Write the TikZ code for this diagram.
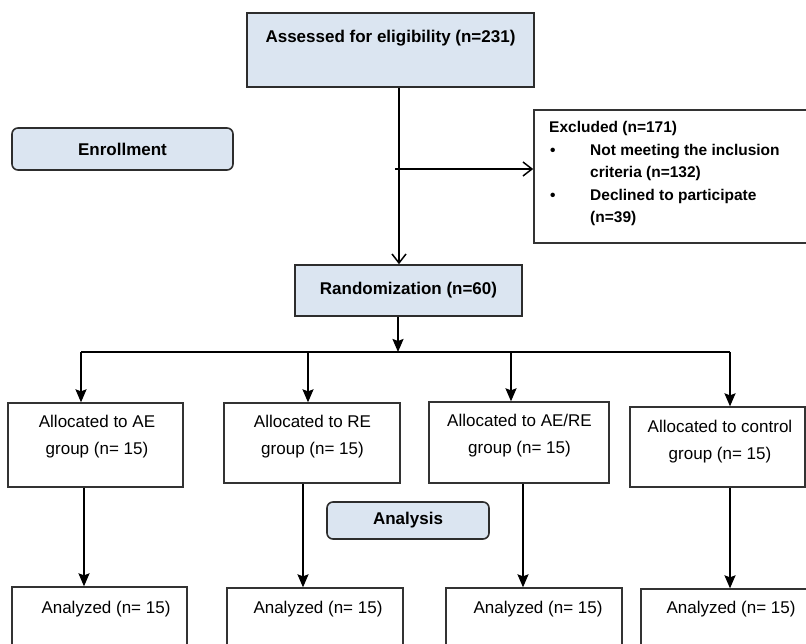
\documentclass[tikz,border=0pt]{standalone}
\usepackage{fontspec}
\setmainfont{Liberation Sans}
\usetikzlibrary{arrows.meta}
\definecolor{boxblue}{RGB}{219,229,241}
\definecolor{edgegray}{RGB}{45,45,45}
\begin{document}
\begin{tikzpicture}[x=1pt,y=-1pt,
  bluebox/.style={draw=edgegray, fill=boxblue, line width=1.6pt, inner sep=0pt},
  whitebox/.style={draw=black!80, fill=white, line width=1.3pt, inner sep=0pt},
  head/.style={font=\fontsize{17}{20}\selectfont\bfseries},
  body/.style={font=\fontsize{17}{27}\selectfont, align=center, inner sep=0pt},
  link/.style={line width=1.8pt},
  openarrow/.style={link, -{Straight Barb[length=9pt,width=14pt,line width=1.5pt]}},
  solidarrow/.style={link, -{Stealth[length=13pt,width=11pt,inset=2pt]}}
]
\useasboundingbox (0,0) rectangle (806,644);

% boxes
\node[bluebox, minimum width=287, minimum height=74] (assess) at (390.5,50) {};
\node[head, anchor=base] (assesst) at (390.5,43) {Assessed for eligibility (n=231)};

\node[bluebox, rounded corners=6pt, minimum width=221, minimum height=42, head] (enrol) at (122.5,149) {Enrollment};

\node[whitebox, line width=1.6pt, minimum width=286, minimum height=133] (excl) at (677,176.5) {};
\node[anchor=base west, align=left, inner sep=0pt, font=\fontsize{15.5}{22.5}\selectfont\bfseries] (exclt) at (549,223)
  {Excluded (n=171)\\
   \hspace*{1pt}\makebox[40pt][l]{\textbullet}Not meeting the inclusion\\
   \hspace*{41pt}criteria (n=132)\\
   \hspace*{1pt}\makebox[40pt][l]{\textbullet}Declined to participate\\
   \hspace*{41pt}(n=39)};

\node[bluebox, minimum width=227, minimum height=51, head] (rand) at (408.5,290.5) {Randomization (n=60)};

\node[bluebox, rounded corners=6pt, minimum width=162, minimum height=37, head] (analysis) at (408,520.5) {Analysis};

\node[whitebox, minimum width=175, minimum height=84] (al1) at (95.5,445) {};
\node[whitebox, minimum width=176, minimum height=80] (al2) at (312,443) {};
\node[whitebox, minimum width=180, minimum height=81] (al3) at (519,442.5) {};
\node[whitebox, minimum width=175, minimum height=80] (al4) at (717.5,447) {};
\node[body, anchor=base] (al1t) at (97,454) {Allocated to AE\\group (n= 15)};
\node[body, anchor=base] (al2t) at (312.5,454) {Allocated to RE\\group (n= 15)};
\node[body, anchor=base] (al3t) at (519.5,453) {Allocated to AE/RE\\group (n= 15)};
\node[body, anchor=base] (al4t) at (720,459) {Allocated to control\\group (n= 15)};

\node[whitebox, minimum width=175, minimum height=73] (an1) at (99.5,623.5) {};
\node[whitebox, minimum width=176, minimum height=72] (an2) at (315,624) {};
\node[whitebox, minimum width=176, minimum height=72] (an3) at (534,624) {};
\node[whitebox, minimum width=179, minimum height=71] (an4) at (730.5,624.5) {};
\node[body, anchor=base] (an1t) at (106,613) {Analyzed (n= 15)};
\node[body, anchor=base] (an2t) at (318,613) {Analyzed (n= 15)};
\node[body, anchor=base] (an3t) at (538,613) {Analyzed (n= 15)};
\node[body, anchor=base] (an4t) at (731,613) {Analyzed (n= 15)};

% connectors
\coordinate (mainx) at (399,0);
\coordinate (randx) at (398,0);
\coordinate (exstart) at (395,169);
\coordinate (split) at (398,352);
\coordinate (c1) at (81,352);
\coordinate (c2) at (308,352);
\coordinate (c3) at (511,352);
\coordinate (c4) at (730,352);
\coordinate (d1) at (84,0);
\coordinate (d2) at (303,0);
\coordinate (d3) at (523,0);
\coordinate (d4) at (730,0);

\draw[openarrow] (assess.south -| mainx) -- (rand.north -| mainx);
\draw[openarrow] (exstart) -- (excl.west |- exstart);
\draw[solidarrow] (rand.south -| randx) -- (split);
\draw[link, line width=2.2pt] (c1) -- (c4);
\foreach \i in {1,2,3,4} {
  \draw[solidarrow] (c\i) -- (al\i.north -| c\i);
  \draw[solidarrow] (al\i.south -| d\i) -- (an\i.north -| d\i);
}
\end{tikzpicture}
\end{document}
